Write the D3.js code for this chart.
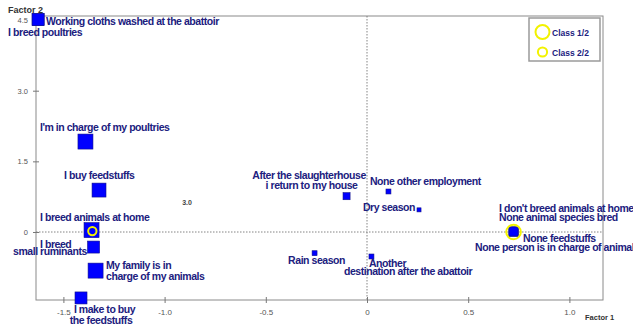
<!DOCTYPE html>
<html><head><meta charset="utf-8">
<script src="https://cdn.jsdelivr.net/npm/d3@7"></script>
<style>
html,body{margin:0;padding:0;background:#fff;}
svg{display:block;font-family:"Liberation Sans",Arial,sans-serif;}
</style></head>
<body><svg id="chart" width="633" height="334"></svg>
<script>
// ---- data ----
const categories = [
  "Working cloths washed at the abattoir",
  "I breed poultries",
  "I'm in charge of my poultries",
  "I buy feedstuffs",
  "I breed animals at home",
  "I breed small ruminants",
  "My family is in charge of my animals",
  "I make to buy the feedstuffs",
  "After the slaughterhouse i return to my house",
  "None other employment",
  "Dry season",
  "Rain season",
  "Another destination after the abattoir",
  "None feedstuffs",
  "I don't breed animals at home",
  "None animal species bred",
  "None person is in charge of animals"
];
const factor1 = [-1.625,-1.625,-1.391,-1.324,-1.361,-1.351,-1.341,-1.413,-0.101,0.106,0.257,-0.259,0.022,0.724,0.724,0.724,0.724];
const factor2 = [4.51,4.51,1.92,0.89,0.04,-0.32,-0.82,-1.40,0.76,0.86,0.47,-0.45,-0.52,0.01,0.01,0.01,0.01];
const weight  = [80,80,100,93,100,80,100,80,47,33,27,33,33,60,60,60,60];
const classNames = ["Class 1/2","Class 2/2"];
const classF1 = [0.724,-1.357];
const classF2 = [0.0,0.02];
const classWeight = [100,57];
const xTicks = [-1.5,-1.0,-0.5,0,0.5,1.0];
const xTickLabels = ["-1.5","-1.0","-0.5","0","0.5","1.0"];
const yTicks = [0,1.5,3.0,4.5];
const yTickLabels = ["0","1.5","3.0","4.5"];

// ---- label layout (pixel offsets from each point) ----
const labelLayout = [
  [{t:"Working cloths washed at the abattoir",dx:8,dy:5.5,a:"start"}],
  [{t:"I breed poultries",dx:-30,dy:16,a:"start"}],
  [{t:"I'm in charge of my poultries",dx:-45.5,dy:-10.5,a:"start"}],
  [{t:"I buy feedstuffs",dx:-35,dy:-11,a:"start"}],
  [{t:"I breed animals at home",dx:-51.5,dy:-9,a:"start"}],
  [{t:"I breed",dx:-53.5,dy:1.3,a:"start"},{t:"small ruminants",dx:-80.5,dy:8.3,a:"start"}],
  [{t:"My family is in",dx:10.5,dy:-2,a:"start"},{t:"charge of my animals",dx:10.5,dy:9.5,a:"start"}],
  [{t:"I make to buy",dx:23.5,dy:15,a:"middle"},{t:"the feedstuffs",dx:20,dy:26,a:"middle"}],
  [{t:"After the slaughterhouse",dx:-37.5,dy:-17,a:"middle"},{t:"i return to my house",dx:-35,dy:-7,a:"middle"}],
  [{t:"None other employment",dx:-18.5,dy:-6,a:"start"}],
  [{t:"Dry season",dx:-4,dy:1,a:"end"}],
  [{t:"Rain season",dx:2,dy:11,a:"middle"}],
  [{t:"Another",dx:-2.5,dy:10.5,a:"start"},{t:"destination after the abattoir",dx:-27.5,dy:18.5,a:"start"}],
  [{t:"None feedstuffs",dx:9.5,dy:10,a:"start"}],
  [{t:"I don't breed animals at home",dx:-14.5,dy:-19.5,a:"start"}],
  [{t:"None animal species bred",dx:-14.5,dy:-10.5,a:"start"}],
  [{t:"None person is in charge of animals",dx:-38.5,dy:19,a:"start"}]
];

const svg = d3.select("#chart");
const L = 36, R = 603, T = 16, B = 300;
const x = d3.scaleLinear().domain([(L-367)/202.4, (R-367)/202.4]).range([L, R]);
const y = d3.scaleLinear().domain([(232-B)/47.1, (232-T)/47.1]).range([B, T]);
const size = d3.scaleLinear().domain([0,100]).range([0,15]);
const rad = d3.scaleLinear().domain([0,100]).range([0,7.3]);

const textColor = "#20207e";
const frameColor = "#8a8a8a";

// frame
svg.append("rect").attr("x",L).attr("y",T).attr("width",R-L).attr("height",B-T)
  .attr("fill","none").attr("stroke",frameColor).attr("stroke-width",1);

// zero lines
svg.append("line").attr("x1",L).attr("x2",R).attr("y1",y(0)).attr("y2",y(0))
  .attr("stroke","#777").attr("stroke-dasharray","1.5,1.5").attr("stroke-width",0.9);
svg.append("line").attr("x1",x(0)).attr("x2",x(0)).attr("y1",T).attr("y2",B)
  .attr("stroke","#777").attr("stroke-dasharray","1.5,1.5").attr("stroke-width",0.9);

// axes
const xAxis = d3.axisBottom(x).tickValues(xTicks).tickFormat((d,i)=>xTickLabels[i]).tickSize(3).tickPadding(6);
const gx = svg.append("g").attr("transform",`translate(0,${B})`).call(xAxis);
gx.select(".domain").remove();
gx.selectAll(".tick line").attr("y1",-3).attr("y2",3).attr("stroke","#777");
gx.selectAll(".tick text").attr("fill","#555").style("font-size","8px").style("font-family","Liberation Sans, Arial, sans-serif");

const yAxis = d3.axisLeft(y).tickValues(yTicks).tickFormat((d,i)=>yTickLabels[i]).tickSize(3).tickPadding(5);
const gy = svg.append("g").attr("transform",`translate(${L},0)`).call(yAxis);
gy.select(".domain").remove();
gy.selectAll(".tick line").attr("x1",3).attr("x2",-3).attr("stroke","#777");
gy.selectAll(".tick text").attr("fill","#555").style("font-size","7.5px").style("font-family","Liberation Sans, Arial, sans-serif");

// axis titles
svg.append("text").attr("x",8).attr("y",13).text("Factor 2")
  .attr("fill","#333").style("font-size","9px").style("font-weight","bold");
svg.append("text").attr("x",585).attr("y",320).text("Factor 1")
  .attr("fill","#333").style("font-size","7.5px").style("font-weight","bold");

// stray label
svg.append("text").attr("x",187).attr("y",205).attr("text-anchor","middle").text("3.0")
  .attr("fill","#444").style("font-size","7px").style("font-weight","bold");

// points
const pts = categories.map((c,i)=>({c, f1:factor1[i], f2:factor2[i], w:weight[i], lab:labelLayout[i]}));
svg.append("g").selectAll("rect").data(pts).join("rect")
  .attr("x",d=>x(d.f1)-size(d.w)/2).attr("y",d=>y(d.f2)-size(d.w)/2)
  .attr("width",d=>size(d.w)).attr("height",d=>size(d.w))
  .attr("fill","#0000ff").attr("stroke","#10108a").attr("stroke-width",0.6);

// class circles
const cls = classNames.map((n,i)=>({n, f1:classF1[i], f2:classF2[i], w:classWeight[i]}));
svg.append("g").selectAll("circle").data(cls).join("circle")
  .attr("cx",d=>x(d.f1)).attr("cy",d=>y(d.f2)).attr("r",d=>rad(d.w))
  .attr("fill","none").attr("stroke","#f2f200").attr("stroke-width",2);

// labels
const lg = svg.append("g").attr("fill",textColor).style("font-size","10.5px").style("font-weight","bold").style("letter-spacing","-0.45px");
pts.forEach(d=>{
  d.lab.forEach(l=>{
    lg.append("text").attr("x",x(d.f1)+l.dx).attr("y",y(d.f2)+l.dy).attr("text-anchor",l.a).text(l.t);
  });
});

// legend
const leg = svg.append("g");
leg.append("rect").attr("x",529).attr("y",18).attr("width",71).attr("height",43)
  .attr("fill","#fff").attr("stroke","#9a9a9a").attr("stroke-width",1.5);
cls.forEach((d,i)=>{
  leg.append("circle").attr("cx",542.5).attr("cy",i===0?32:52).attr("r",i===0?7:4.6)
    .attr("fill","none").attr("stroke","#f2f200").attr("stroke-width",2);
  leg.append("text").attr("x",552).attr("y",i===0?36:55.5).text(d.n)
    .attr("fill",textColor).style("font-size","8.5px").style("font-weight","bold");
});
</script></body></html>
